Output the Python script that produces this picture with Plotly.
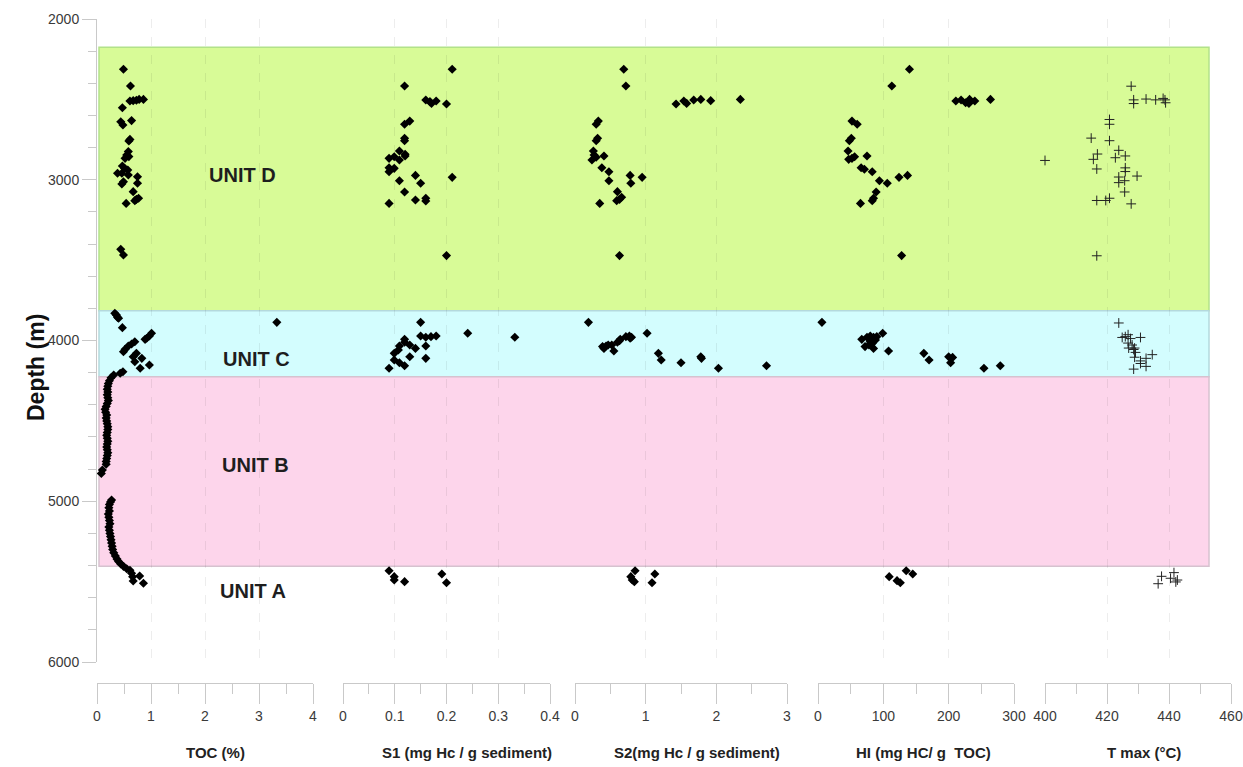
import plotly.graph_objects as go

# ---------------- data (depth in m) ----------------
toc_depth = [2313, 2417, 2510, 2508, 2505, 2500, 2500, 2552, 2639, 2659, 2632, 2749, 2759, 2825, 2846, 2856, 2867,
             2914, 2929, 2939, 2960, 2960, 2970, 2981, 3022, 3012, 3026, 3074, 3122, 3130, 3115, 3147, 3433, 3468,
             3831, 3841, 3856, 3862, 3887, 3920, 3955, 3972, 3986, 3993, 4008, 4022, 4034, 4055, 4070, 4080, 4101,
             4111, 4132, 4173, 4152, 4194, 4204,
             4215, 4232, 4250, 4268, 4285, 4303, 4320, 4338, 4356, 4374, 4392, 4410, 4428, 4446, 4464, 4482, 4500,
             4518, 4536, 4554, 4572, 4590, 4608, 4626, 4644, 4662, 4680, 4698, 4716, 4734, 4752, 4770, 4806, 4827,
             4992, 5005, 5020, 5040, 5060, 5080, 5100, 5120, 5140, 5160, 5180, 5200, 5220, 5240, 5260, 5280, 5300,
             5320, 5340, 5360, 5375, 5390, 5405,
             5420, 5430, 5448, 5470, 5496, 5465, 5510]
toc = [0.49, 0.62, 0.61, 0.67, 0.73, 0.78, 0.86, 0.47, 0.44, 0.48, 0.64, 0.61, 0.59, 0.58, 0.55, 0.59, 0.52,
       0.47, 0.51, 0.57, 0.38, 0.46, 0.58, 0.75, 0.75, 0.49, 0.46, 0.67, 0.73, 0.70, 0.77, 0.54, 0.44, 0.49,
       0.33, 0.36, 0.38, 0.40, 3.33, 0.47, 1.01, 0.97, 0.92, 0.89, 0.70, 0.64, 0.58, 0.52, 0.49, 0.73, 0.67,
       0.83, 0.70, 0.80, 0.97, 0.48, 0.43,
       0.31, 0.26, 0.23, 0.21, 0.20, 0.19, 0.20, 0.19, 0.20, 0.21, 0.19, 0.17, 0.15, 0.16, 0.18, 0.17, 0.18,
       0.19, 0.20, 0.20, 0.19, 0.18, 0.19, 0.20, 0.19, 0.18, 0.19, 0.20, 0.19, 0.18, 0.17, 0.17, 0.10, 0.08,
       0.27, 0.25, 0.23, 0.22, 0.23, 0.21, 0.22, 0.23, 0.24, 0.22, 0.23, 0.24, 0.25, 0.26, 0.27, 0.28, 0.29,
       0.31, 0.34, 0.37, 0.40, 0.44, 0.49,
       0.55, 0.61, 0.64, 0.66, 0.67, 0.79, 0.86]

s1_depth = [2313, 2417, 2504, 2514, 2525, 2510, 2529, 2635, 2655, 2742, 2757, 2821, 2842, 2852, 2877, 2857, 2867,
            2925, 2929, 2950, 3006, 2973, 3022, 2985, 3076, 3126, 3115, 3132, 3147, 3472,
            3887, 3972, 3980, 3976, 3972, 3955, 3980, 3993, 4011, 4028, 4049, 4034, 4059, 4080, 4034, 4101, 4111,
            4121, 4138, 4157, 4173,
            5432, 5469, 5490, 5500, 5453, 5507]
s1 = [0.211, 0.119, 0.160, 0.168, 0.171, 0.180, 0.200, 0.129, 0.119, 0.119, 0.119, 0.109, 0.120, 0.120, 0.109,
      0.099, 0.089, 0.089, 0.099, 0.089, 0.109, 0.140, 0.150, 0.211, 0.119, 0.140, 0.160, 0.160, 0.089, 0.200,
      0.150, 0.150, 0.160, 0.170, 0.180, 0.241, 0.332, 0.119, 0.119, 0.129, 0.140, 0.109, 0.107, 0.099, 0.160,
      0.129, 0.160, 0.099, 0.109, 0.119, 0.089,
      0.089, 0.099, 0.099, 0.119, 0.191, 0.200]

s2_depth = [2313, 2417, 2529, 2510, 2525, 2504, 2500, 2508, 2500, 2635, 2655, 2742, 2757, 2821, 2846, 2860, 2877,
            2852, 2925, 2950, 3006, 2973, 3022, 2985, 3074, 3130, 3122, 3109, 3147, 3472,
            3887, 3955, 3976, 3972, 3980, 3986, 3993, 4011, 4001, 4038, 4034, 4028, 4028, 4049, 4065, 4080, 4121,
            4138, 4101, 4111, 4173, 4157,
            5432, 5469, 5490, 5500, 5453, 5507]
s2 = [0.69, 0.72, 1.43, 1.54, 1.58, 1.68, 1.78, 1.92, 2.34, 0.33, 0.30, 0.32, 0.30, 0.26, 0.27, 0.30, 0.24,
      0.41, 0.38, 0.48, 0.48, 0.78, 0.79, 0.95, 0.60, 0.59, 0.63, 0.66, 0.35, 0.63,
      0.19, 1.02, 0.72, 0.77, 0.80, 0.78, 0.64, 0.60, 0.63, 0.39, 0.44, 0.47, 0.52, 0.41, 0.55, 1.18, 1.22,
      1.50, 1.78, 1.79, 2.03, 2.71,
      0.85, 0.79, 0.81, 0.84, 1.13, 1.09]

hi_depth = [2313, 2417, 2510, 2504, 2521, 2525, 2500, 2510, 2500, 2635, 2655, 2742, 2757, 2821, 2873, 2867, 2857,
            2852, 2925, 2935, 2950, 3006, 3022, 2985, 2973, 3076, 3115, 3130, 3147, 3472,
            3887, 3993, 3980, 3972, 3980, 3976, 3955, 4038, 4028, 4018, 4049, 4008, 3997, 4065, 4080, 4121, 4101,
            4105, 4138, 4173, 4157,
            5469, 5494, 5507, 5432, 5453]
hi = [140, 113, 211, 219, 226, 231, 232, 240, 264, 52, 60, 51, 48, 46, 47, 52, 56,
      75, 66, 71, 83, 94, 106, 124, 137, 89, 85, 83, 65, 128,
      6, 67, 75, 80, 85, 90, 99, 72, 78, 83, 85, 80, 88, 108, 162, 170, 200,
      206, 203, 254, 279,
      109, 121, 126, 135, 145]

tmax_depth = [2309, 2418, 2503, 2526, 2498, 2503, 2494, 2503, 2521, 2625, 2655, 2741, 2757, 2817, 2863, 2852, 2840,
              2873, 2933, 2880, 2926, 2949, 2983, 3018, 3006, 2977, 3076, 3129, 3129, 3115, 3150, 3473,
              3891, 3981, 3976, 3964, 3988, 3981, 4016, 4028, 4047, 4056, 4074, 4047, 4104, 4127, 4111, 4088,
              4143, 4161, 4178,
              5467, 5444, 5479, 5502, 5490, 5513]
tmax = [398.9, 427.8, 428.6, 428.6, 432.6, 435.7, 438.1, 438.7, 438.9, 420.8, 420.8, 414.9, 420.8, 423.8, 422.7,
        425.9, 416.9, 415.6, 416.7, 400.0, 425.9, 425.9, 423.8, 423.8, 425.7, 429.7, 425.7, 416.7, 419.6, 420.8,
        427.8, 416.7,
        423.8, 424.9, 425.9, 426.8, 427.6, 430.8, 426.8, 428.1, 428.9, 428.6, 429.2, 427.0, 428.9, 430.8, 432.6,
        434.6, 430.8, 432.6, 428.6,
        437.6, 441.6, 440.5, 442.2, 442.7, 436.5]

units = ["UNIT D", "UNIT C", "UNIT B", "UNIT A"]
unit_tops = [2175, 3815, 4225, 5405]
unit_bases = [3815, 4225, 5405, 6000]
unit_label_depth = [2970, 4115, 4775, 5558]
unit_label_toc = [2.69, 2.96, 2.94, 2.89]
unit_colors = ["#d8fb97", "#d3fdfe", "#fdd5eb", None]
unit_edges = ["#b2e28a", "#b4d9dd", "#d6c2cf", None]

panels = [
    dict(name="TOC (%)", d=toc_depth, v=toc, rng=[0, 4], ticks=[0, 1, 2, 3, 4], minor=0.5, title_at=2.2),
    dict(name="S1 (mg Hc / g sediment)", d=s1_depth, v=s1, rng=[0, 0.4], ticks=[0, 0.1, 0.2, 0.3, 0.4], minor=0.05, title_at=0.24),
    dict(name="S2(mg Hc / g sediment)", d=s2_depth, v=s2, rng=[0, 3], ticks=[0, 1, 2, 3], minor=0.5, title_at=1.72),
    dict(name="HI (mg HC/ g  TOC)", d=hi_depth, v=hi, rng=[0, 300], ticks=[0, 100, 200, 300], minor=50, title_at=162),
    dict(name="T max (°C)", d=tmax_depth, v=tmax, rng=[400, 460], ticks=[400, 420, 440, 460], minor=10, title_at=432),
]

# ---------------- layout geometry ----------------
W, H = 1243, 767
ML, MR, MT, MB = 97, 12, 19, 84
PW = W - ML - MR
PH = H - MT - MB
px_dom = [(97, 313), (343, 550), (575, 787), (818, 1014), (1045, 1231)]
domains = [[(a - ML) / PW, (b - ML) / PW] for a, b in px_dom]
ydom0 = (683 - 662) / PH

fig = go.Figure()
grey = "#c9c9c9"
FONT = "Liberation Sans, Arial, sans-serif"
tickfont = dict(family=FONT, size=14, color="#3a3a3a")

for i, p in enumerate(panels):
    xa = "x" if i == 0 else f"x{i+1}"
    if i < 4:
        marker = dict(symbol="diamond", size=7, color="black", line=dict(width=0))
    else:
        marker = dict(symbol="cross-thin", size=7, color="#222", line=dict(width=1, color="#222"))
    fig.add_trace(go.Scatter(x=p["v"], y=p["d"], mode="markers", marker=marker,
                             xaxis=xa, yaxis="y", showlegend=False, cliponaxis=False))
    key = "xaxis" if i == 0 else f"xaxis{i+1}"
    fig.layout[key] = dict(
        domain=domains[i], range=p["rng"], anchor="free", position=0,
        tickvals=p["ticks"], ticks="outside", ticklen=20, tickcolor=grey, tickwidth=1,
        minor=dict(dtick=p["minor"], tick0=p["rng"][0], ticks="outside", ticklen=10, tickcolor=grey, showgrid=False),
        showline=True, linecolor=grey, linewidth=1,
        showgrid=True, gridcolor="rgba(0,0,0,0.07)", griddash="dash", gridwidth=1,
        zeroline=False, tickfont=tickfont, fixedrange=True,
    )
    fig.add_annotation(x=p["title_at"], xref=xa, y=(683 - 752) / PH, yref="paper",
                       text=f"<b>{p['name']}</b>", showarrow=False, xanchor="center", yanchor="middle",
                       font=dict(family=FONT, size=15, color="#222"))

fig.update_layout(
    yaxis=dict(domain=[ydom0, 1], range=[6000, 2000], anchor="x",
               tickvals=[2000, 3000, 4000, 5000, 6000], ticks="outside", ticklen=14, tickcolor=grey,
               minor=dict(dtick=200, tick0=2000, ticks="outside", ticklen=8, tickcolor=grey),
               showline=True, linecolor=grey, showgrid=False, zeroline=False, tickfont=tickfont,
               fixedrange=True),
)

# unit bands
for name, top, base, col, edge in zip(units, unit_tops, unit_bases, unit_colors, unit_edges):
    if col is None:
        continue
    fig.add_shape(type="rect", xref="paper", yref="y", x0=(99 - ML) / PW, x1=(1209 - ML) / PW,
                  y0=top, y1=base, fillcolor=col, line=dict(color=edge, width=1.5), layer="below")

for name, dep, xv in zip(units, unit_label_depth, unit_label_toc):
    fig.add_annotation(x=xv, xref="x", y=dep, yref="y", text=f"<b>{name}</b>", showarrow=False,
                       font=dict(family=FONT, size=20, color="#1e1e1e"))

fig.add_annotation(x=(21 - ML) / PW, xref="paper", y=(683 - 368) / PH, yref="paper",
                   text="<b>Depth (m)</b>", textangle=-90, showarrow=False,
                   font=dict(family=FONT, size=23, color="#111"))

fig.update_layout(width=W, height=H, autosize=False, margin=dict(l=ML, r=MR, t=MT, b=MB, autoexpand=False),
                  paper_bgcolor="white", plot_bgcolor="rgba(0,0,0,0)", showlegend=False)

post = ("document.documentElement.style.margin='0';document.documentElement.style.overflow='hidden';"
        "document.body.style.margin='0';document.body.style.padding='0';document.body.style.overflow='hidden';"
        "var gd=document.getElementById('{plot_id}');"
        "Plotly.relayout(gd,{width:%d,height:%d,autosize:false});" % (W, H))

fig.write_html("out.html", config={"displayModeBar": False, "responsive": False}, post_script=post)
